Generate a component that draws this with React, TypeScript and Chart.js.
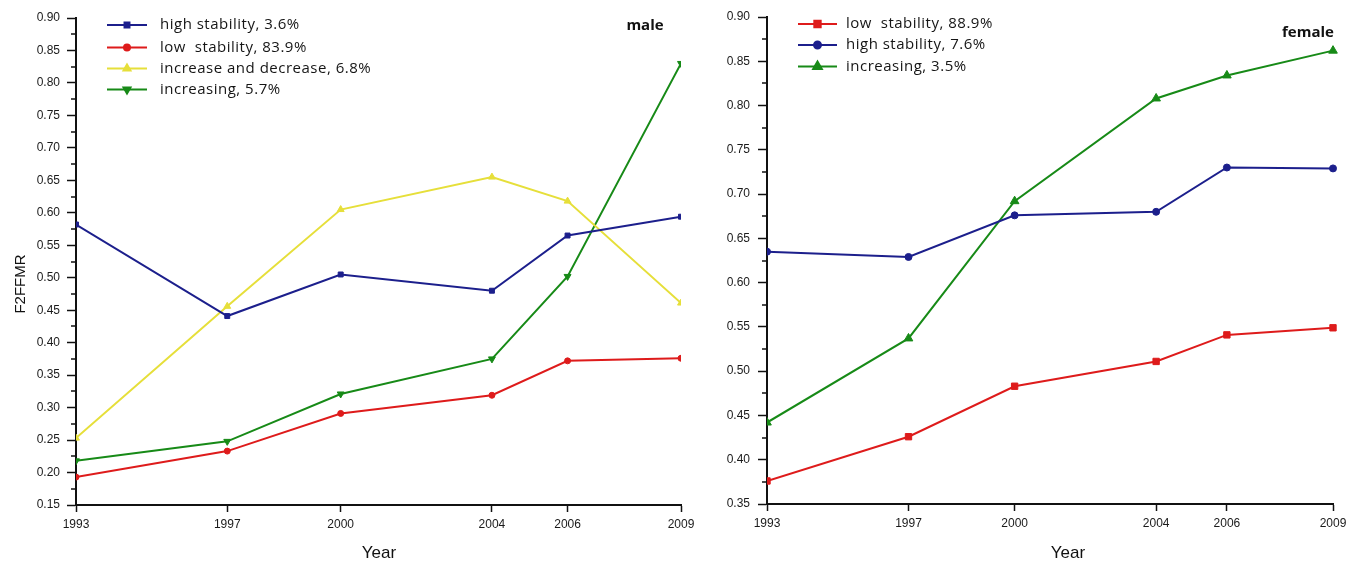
import React, { useEffect, useRef } from 'react';
import { Chart, registerables } from 'chart.js';
import { drawPoint } from 'chart.js/helpers';

Chart.register(...registerables);

// ---------- data ----------
const years = [1993, 1997, 2000, 2004, 2006, 2009];

const maleHighStability = [0.582, 0.441, 0.505, 0.480, 0.565, 0.594];
const maleLowStability = [0.193, 0.233, 0.291, 0.319, 0.372, 0.376];
const maleIncreaseDecrease = [0.253, 0.456, 0.605, 0.655, 0.618, 0.461];
const maleIncreasing = [0.218, 0.248, 0.321, 0.375, 0.502, 0.830];

const femaleLowStability = [0.376, 0.426, 0.483, 0.511, 0.541, 0.549];
const femaleHighStability = [0.635, 0.629, 0.676, 0.680, 0.730, 0.729];
const femaleIncreasing = [0.442, 0.537, 0.692, 0.808, 0.834, 0.862];

const maleLabels = ['high stability, 3.6%', 'low  stability, 83.9%', 'increase and decrease, 6.8%', 'increasing, 5.7%'];
const femaleLabels = ['low  stability, 88.9%', 'high stability, 7.6%', 'increasing, 3.5%'];

const maleYRange = [0.15, 0.9];
const femaleYRange = [0.35, 0.9];
const yStep = 0.05;

// ---------- styles ----------
const NAVY = '#1c1f8c';
const RED = '#de1b1b';
const YELLOW = '#e6df3a';
const GREEN = '#178a17';
const AXIS = '#111111';
const TICK_FONT = { family: "'Liberation Sans', Arial, sans-serif", size: 12 };

const annotPlugin = {
  id: 'annot',
  afterDraw(chart: any, _args: any, opts: any) {
    const ctx = chart.ctx as CanvasRenderingContext2D;
    const area = chart.chartArea;
    const ys = chart.scales.y;
    ctx.save();
    // minor ticks on y axis
    ctx.strokeStyle = AXIS;
    ctx.lineWidth = 1.5;
    const ticks = ys.ticks;
    for (let i = 0; i < ticks.length - 1; i++) {
      const v = (ticks[i].value + ticks[i + 1].value) / 2;
      const py = Math.round(ys.getPixelForValue(v));
      ctx.beginPath();
      ctx.moveTo(area.left - opts.minorLen, py);
      ctx.lineTo(area.left, py);
      ctx.stroke();
    }
    // legend inside plot
    ctx.font = opts.legendFont;
    (ctx as any).letterSpacing = '0.5px';
    ctx.textBaseline = 'middle';
    ctx.textAlign = 'left';
    chart.data.datasets.forEach((ds: any, i: number) => {
      const ry = opts.legendRows[i];
      ctx.strokeStyle = ds.borderColor;
      ctx.lineWidth = 2;
      ctx.beginPath();
      ctx.moveTo(opts.legendX0, ry);
      ctx.lineTo(opts.legendX1, ry);
      ctx.stroke();
      ctx.fillStyle = ds.borderColor;
      drawPoint(ctx, {
        pointStyle: ds.pointStyle,
        radius: ds.pointRadius,
        rotation: ds.pointRotation || 0,
        borderWidth: 1,
      } as any, (opts.legendX0 + opts.legendX1) / 2, ry);
      ctx.fillStyle = '#151515';
      ctx.fillText(ds.label, opts.legendTextX, ry);
    });
    (ctx as any).letterSpacing = '0px';
    // panel title
    ctx.font = opts.titleFont;
    ctx.textAlign = 'center';
    ctx.textBaseline = 'alphabetic';
    ctx.fillStyle = '#111';
    ctx.fillText(opts.title, opts.titleX, opts.titleY);
    // x axis title
    ctx.font = "17px 'Liberation Sans', Arial, sans-serif";
    ctx.fillText('Year', opts.xTitleX, 557.5);
    // y axis title
    if (opts.yTitle) {
      ctx.font = "15px 'Liberation Sans', Arial, sans-serif";
      ctx.translate(opts.yTitleX, opts.yTitleY);
      ctx.rotate(-Math.PI / 2);
      ctx.fillText(opts.yTitle, 0, 0);
    }
    ctx.restore();
  },
};

function buildConfig(spec: any) {
  return {
    type: 'line',
    data: {
      datasets: spec.series.map((s: any) => ({
        label: s.label,
        data: years.map((yr, i) => ({ x: yr, y: s.values[i] })),
        borderColor: s.color,
        backgroundColor: s.color,
        borderWidth: 2,
        pointStyle: s.pointStyle,
        pointRadius: s.radius,
        pointRotation: s.rotation || 0,
        pointBorderWidth: 1,
        tension: 0,
        clip: spec.clip,
      })),
    },
    options: {
      animation: false,
      responsive: false,
      maintainAspectRatio: false,
      events: [],
      layout: { padding: spec.padding },
      plugins: {
        legend: { display: false },
        tooltip: { enabled: false },
        title: { display: false },
        annot: spec.annot,
      },
      scales: {
        x: {
          type: 'linear',
          min: years[0],
          max: years[years.length - 1],
          afterBuildTicks: (s: any) => {
            s.ticks = years.map((v) => ({ value: v }));
          },
          afterFit: (s: any) => {
            s.height = spec.xHeight;
            s.paddingLeft = 0;
            s.paddingRight = 0;
          },
          ticks: {
            callback: (v: any) => String(v),
            font: TICK_FONT,
            color: '#1a1a1a',
            padding: 5,
            maxRotation: 0,
            autoSkip: false,
          },
          grid: { display: true, drawOnChartArea: false, drawTicks: true, tickLength: 7, tickWidth: 1.5, tickColor: AXIS },
          border: { display: true, color: AXIS, width: 2 },
        },
        y: {
          type: 'linear',
          min: spec.yRange[0],
          max: spec.yRange[1],
          afterFit: (s: any) => {
            s.width = spec.yWidth;
            s.paddingTop = 0;
            s.paddingBottom = 0;
          },
          ticks: {
            stepSize: yStep,
            callback: (v: any) => Number(v).toFixed(2),
            font: TICK_FONT,
            color: '#1a1a1a',
            padding: spec.yPad,
          },
          grid: { display: true, drawOnChartArea: false, drawTicks: true, tickLength: 9, tickWidth: 1.5, tickColor: AXIS },
          border: { display: true, color: AXIS, width: 2 },
        },
      },
    },
    plugins: [annotPlugin],
  };
}

const LEFT_W = 695;
const RIGHT_W = 1363 - LEFT_W;

const maleSpec = {
  series: [
    { label: maleLabels[0], values: maleHighStability, color: NAVY, pointStyle: 'rect', radius: 3.5 },
    { label: maleLabels[1], values: maleLowStability, color: RED, pointStyle: 'circle', radius: 3 },
    { label: maleLabels[2], values: maleIncreaseDecrease, color: YELLOW, pointStyle: 'triangle', radius: 4 },
    { label: maleLabels[3], values: maleIncreasing, color: GREEN, pointStyle: 'triangle', radius: 4, rotation: 180 },
  ],
  yRange: maleYRange,
  yWidth: 76,
  yPad: 7,
  xHeight: 56,
  padding: { left: 0, right: LEFT_W - 681, top: 18, bottom: 0 },
  clip: { left: 0, right: 0, top: false, bottom: false },
  annot: {
    minorLen: 5,
    legendFont: "15px 'Open Sans', sans-serif",
    legendRows: [25, 47.5, 68.5, 89.5],
    legendX0: 107,
    legendX1: 147,
    legendTextX: 160,
    title: 'male',
    titleFont: "bold 15px 'Open Sans', sans-serif",
    titleX: 645,
    titleY: 30,
    xTitleX: 379,
    yTitle: 'F2FFMR',
    yTitleX: 25,
    yTitleY: 284,
  },
};

const femaleSpec = {
  series: [
    { label: femaleLabels[0], values: femaleLowStability, color: RED, pointStyle: 'rect', radius: 4.5 },
    { label: femaleLabels[1], values: femaleHighStability, color: NAVY, pointStyle: 'circle', radius: 3.5 },
    { label: femaleLabels[2], values: femaleIncreasing, color: GREEN, pointStyle: 'triangle', radius: 5 },
  ],
  yRange: femaleYRange,
  yWidth: 767 - LEFT_W,
  yPad: 8,
  xHeight: 57,
  padding: { left: 0, right: 1363 - 1333, top: 17, bottom: 0 },
  clip: { left: 0, right: false, top: false, bottom: false },
  annot: {
    minorLen: 5,
    legendFont: "15px 'Open Sans', sans-serif",
    legendRows: [24, 45, 66.5],
    legendX0: 798 - LEFT_W,
    legendX1: 837 - LEFT_W,
    legendTextX: 846 - LEFT_W,
    title: 'female',
    titleFont: "bold 15px 'Open Sans', sans-serif",
    titleX: 1308 - LEFT_W,
    titleY: 36.5,
    xTitleX: 1068 - LEFT_W,
    yTitle: '',
    yTitleX: 0,
    yTitleY: 0,
  },
};

function Panel({ spec, left, width }: { spec: any; left: number; width: number }) {
  const ref = useRef<HTMLCanvasElement | null>(null);
  useEffect(() => {
    if (!ref.current) return;
    const chart = new Chart(ref.current, buildConfig(spec) as any);
    return () => chart.destroy();
  }, [spec]);
  return (
    <canvas
      ref={ref}
      width={width}
      height={561}
      style={{ position: 'absolute', left, top: 0, width, height: 561, display: 'block' }}
    />
  );
}

export default function App() {
  return (
    <div style={{ position: 'absolute', left: 0, top: 0, width: 1363, height: 561, background: '#fff', overflow: 'hidden' }}>
      <Panel spec={maleSpec} left={0} width={LEFT_W} />
      <Panel spec={femaleSpec} left={LEFT_W} width={RIGHT_W} />
    </div>
  );
}
